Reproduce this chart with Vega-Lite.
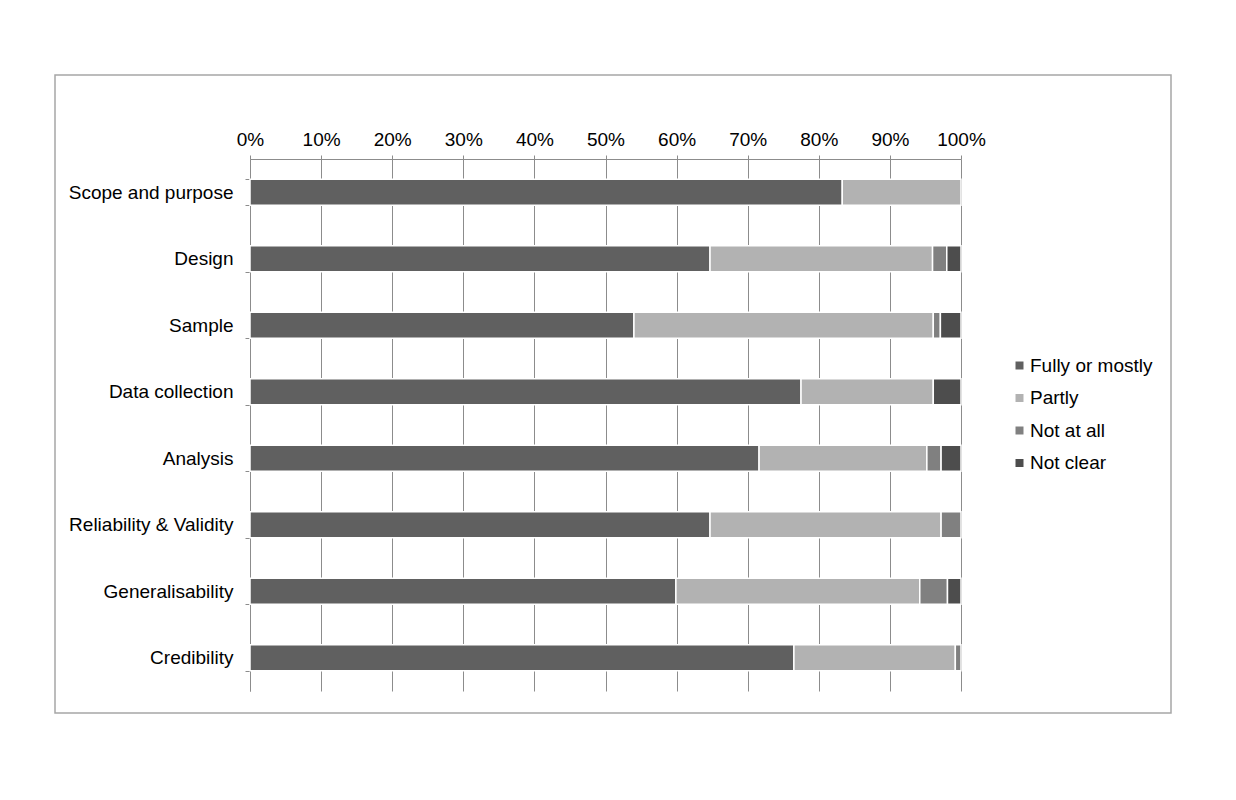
{
  "$schema": "https://vega.github.io/schema/vega-lite/v6.json",
  "width": 1116,
  "height": 638,
  "autosize": {"type": "none"},
  "padding": {"left": 55, "top": 75, "right": 65, "bottom": 87},
  "background": "white",
  "config": {
    "view": {"stroke": "#a6a6a6", "strokeWidth": 1.5},
    "font": "Liberation Sans",
    "axis": {"labelFont": "Liberation Sans", "labelColor": "#000000"},
    "legend": {"labelFont": "Liberation Sans"}
  },
  "data": {
    "values": [
      {"criterion": "Scope and purpose", "rating": "Fully or mostly", "k": 1, "share": 0.833},
      {"criterion": "Scope and purpose", "rating": "Partly", "k": 2, "share": 0.167},
      {"criterion": "Design", "rating": "Fully or mostly", "k": 1, "share": 0.647},
      {"criterion": "Design", "rating": "Partly", "k": 2, "share": 0.313},
      {"criterion": "Design", "rating": "Not at all", "k": 3, "share": 0.020},
      {"criterion": "Design", "rating": "Not clear", "k": 4, "share": 0.020},
      {"criterion": "Sample", "rating": "Fully or mostly", "k": 1, "share": 0.540},
      {"criterion": "Sample", "rating": "Partly", "k": 2, "share": 0.421},
      {"criterion": "Sample", "rating": "Not at all", "k": 3, "share": 0.010},
      {"criterion": "Sample", "rating": "Not clear", "k": 4, "share": 0.029},
      {"criterion": "Data collection", "rating": "Fully or mostly", "k": 1, "share": 0.775},
      {"criterion": "Data collection", "rating": "Partly", "k": 2, "share": 0.186},
      {"criterion": "Data collection", "rating": "Not clear", "k": 4, "share": 0.039},
      {"criterion": "Analysis", "rating": "Fully or mostly", "k": 1, "share": 0.716},
      {"criterion": "Analysis", "rating": "Partly", "k": 2, "share": 0.236},
      {"criterion": "Analysis", "rating": "Not at all", "k": 3, "share": 0.020},
      {"criterion": "Analysis", "rating": "Not clear", "k": 4, "share": 0.028},
      {"criterion": "Reliability & Validity", "rating": "Fully or mostly", "k": 1, "share": 0.647},
      {"criterion": "Reliability & Validity", "rating": "Partly", "k": 2, "share": 0.325},
      {"criterion": "Reliability & Validity", "rating": "Not at all", "k": 3, "share": 0.028},
      {"criterion": "Generalisability", "rating": "Fully or mostly", "k": 1, "share": 0.599},
      {"criterion": "Generalisability", "rating": "Partly", "k": 2, "share": 0.343},
      {"criterion": "Generalisability", "rating": "Not at all", "k": 3, "share": 0.039},
      {"criterion": "Generalisability", "rating": "Not clear", "k": 4, "share": 0.019},
      {"criterion": "Credibility", "rating": "Fully or mostly", "k": 1, "share": 0.765},
      {"criterion": "Credibility", "rating": "Partly", "k": 2, "share": 0.227},
      {"criterion": "Credibility", "rating": "Not at all", "k": 3, "share": 0.008}
    ]
  },
  "mark": {"type": "bar", "stroke": "#ffffff", "strokeWidth": 1.5},
  "encoding": {
    "y": {
      "field": "criterion",
      "type": "nominal",
      "sort": ["Scope and purpose", "Design", "Sample", "Data collection", "Analysis", "Reliability & Validity", "Generalisability", "Credibility"],
      "scale": {"range": [84, 616], "paddingInner": 0.61, "paddingOuter": 0.305},
      "axis": {
        "title": null,
        "orient": "left",
        "offset": -195,
        "tickBand": "extent",
        "grid": false,
        "domainColor": "#8c8c8c",
        "tickColor": "#8c8c8c",
        "tickSize": 5,
        "labelPadding": 12,
        "labelFontSize": 19,
        "labelLimit": 300
      }
    },
    "x": {
      "field": "share",
      "type": "quantitative",
      "stack": "zero",
      "scale": {"domain": [0, 1], "range": [195, 906], "nice": false},
      "axis": {
        "title": null,
        "orient": "top",
        "offset": -84,
        "values": [0, 0.1, 0.2, 0.3, 0.4, 0.5, 0.6, 0.7, 0.8, 0.9, 1],
        "format": ".0%",
        "grid": true,
        "gridColor": "#8c8c8c",
        "gridWidth": 1,
        "domainColor": "#8c8c8c",
        "tickColor": "#8c8c8c",
        "tickSize": 4,
        "labelPadding": 6,
        "labelFontSize": 19,
        "labelFlush": false
      }
    },
    "color": {
      "field": "rating",
      "type": "nominal",
      "scale": {
        "domain": ["Fully or mostly", "Partly", "Not at all", "Not clear"],
        "range": ["#606060", "#b2b2b2", "#808080", "#4d4d4d"]
      },
      "legend": {
        "title": null,
        "orient": "none",
        "legendX": 955,
        "legendY": 281,
        "padding": 0,
        "symbolType": "square",
        "symbolSize": 64,
        "symbolStrokeWidth": 0,
        "labelFontSize": 19,
        "labelOffset": 1,
        "rowPadding": 12.5,
        "labelColor": "#000000"
      }
    },
    "order": {"field": "k", "type": "quantitative"}
  }
}
